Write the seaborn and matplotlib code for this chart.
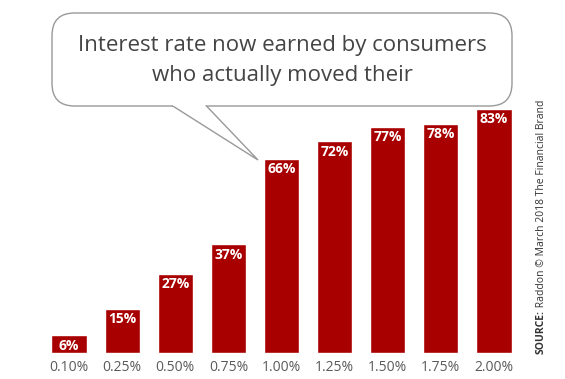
import matplotlib
matplotlib.use("Agg")
import matplotlib.pyplot as plt
import seaborn as sns
import pandas as pd
from matplotlib.patches import FancyBboxPatch, Polygon

categories = ["0.10%", "0.25%", "0.50%", "0.75%", "1.00%", "1.25%", "1.50%", "1.75%", "2.00%"]
values = [6, 15, 27, 37, 66, 72, 77, 78, 83]
title_lines = ["Interest rate now earned by consumers", "who actually moved their"]
source_bold = "SOURCE:"
source_rest = " Raddon \u00a9 March 2018 The Financial Brand"

sns.set_theme(style="white")
plt.rcParams['font.family'] = ['Open Sans', 'DejaVu Sans']

W, H = 565, 379
fig = plt.figure(figsize=(W / 100, H / 100), dpi=100)
fig.patch.set_facecolor("white")

step = (494 - 69) / 8
left_px = 69 - 0.5 * step
right_px = 494 + 0.5 * step
bottom_px = 353
top_px = 353 - 294
ax = fig.add_axes([left_px / W, (H - bottom_px) / H, (right_px - left_px) / W, (bottom_px - top_px) / H])

df = pd.DataFrame({"rate": categories, "pct": values})
sns.barplot(data=df, x="rate", y="pct", color="#a80000", saturation=1, width=0.66, ax=ax)
ax.set_xlim(-0.5, 8.5)
ax.set_ylim(0, 100)
for s in ax.spines.values():
    s.set_visible(False)
ax.set_yticks([])
ax.set_xlabel("")
ax.set_ylabel("")
ax.tick_params(axis="x", length=0, pad=5, labelsize=10, labelcolor="#5a5a5a")

for i, v in enumerate(values):
    ax.annotate(f"{v}%", (i, v), xytext=(0, -2.5), textcoords="offset points",
                ha="center", va="top", color="white", fontsize=10, fontweight="bold")

tr = fig.transFigure
def fp(x, y):
    return (x / W, (H - y) / H)

bx0, by0, bx1, by1 = 52, 13, 512, 106
box = FancyBboxPatch(fp(bx0, by1), (bx1 - bx0) / W, (by1 - by0) / H,
                     boxstyle="round,pad=0,rounding_size=0.04", transform=tr,
                     facecolor="white", edgecolor="#999999", linewidth=1.0, zorder=5,
                     mutation_aspect=W / H)
fig.patches.append(box)
tail = Polygon([fp(172, 105.5), fp(258, 160), fp(206, 105.5)], closed=False, transform=tr,
               facecolor="white", edgecolor="#999999", linewidth=1.0, zorder=6)
fig.patches.append(tail)
cover = Polygon([fp(173, 106), fp(205, 106), fp(205, 104.5), fp(173, 104.5)], closed=True,
                transform=tr, facecolor="white", edgecolor="none", zorder=7)
fig.patches.append(cover)

fig.text(282 / W, (H - 45) / H, title_lines[0], ha="center", va="center",
         fontsize=16, color="#444444", zorder=10)
fig.text(282 / W, (H - 75) / H, title_lines[1], ha="center", va="center",
         fontsize=16, color="#444444", zorder=10)

t1 = fig.text(541 / W, (H - 354) / H, source_bold, rotation=90, ha="center", va="bottom",
              fontsize=7.5, fontweight="bold", color="#333333")
fig.canvas.draw()
ext = t1.get_window_extent(fig.canvas.get_renderer())
fig.text(541 / W, ext.y1 / fig.bbox.height, source_rest, rotation=90,
         ha="center", va="bottom", fontsize=7.5, color="#333333")

fig.savefig("out.png", dpi=100, facecolor="white")
